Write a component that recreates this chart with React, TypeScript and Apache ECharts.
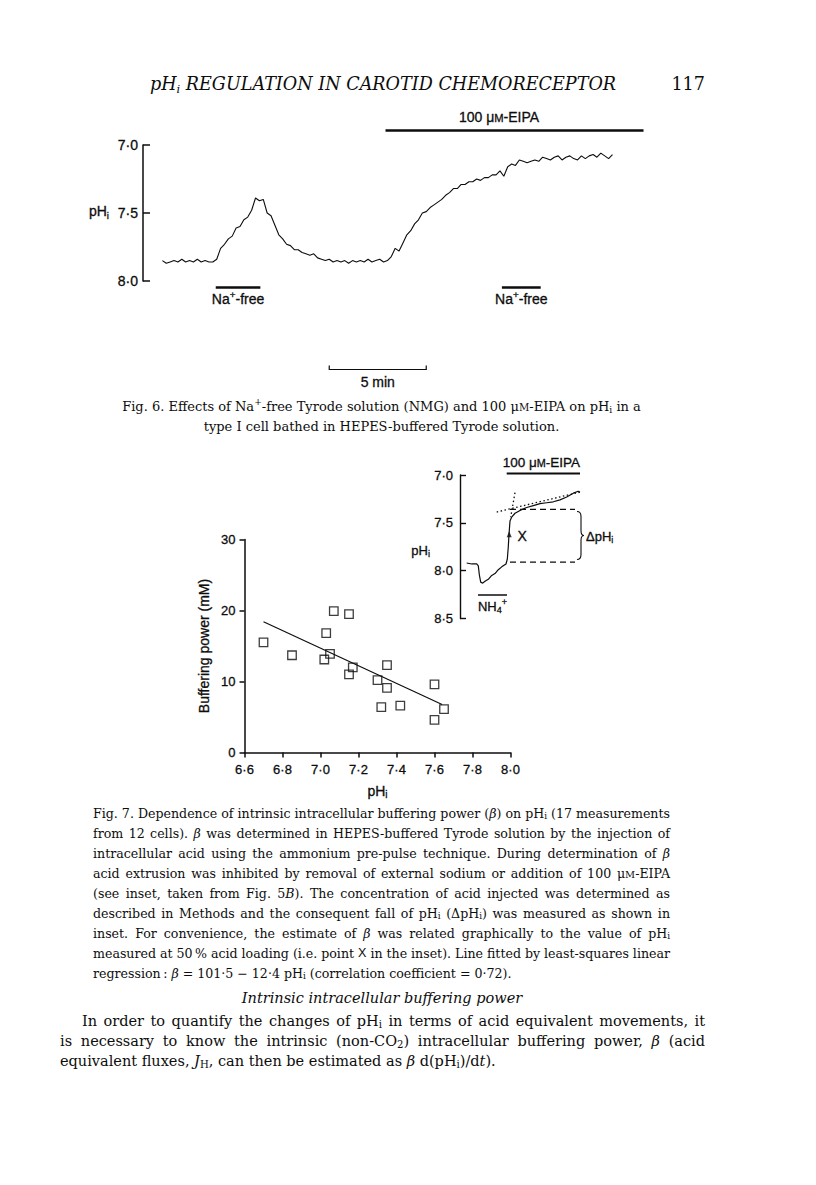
import React, { useEffect, useRef } from "react";
import * as echarts from "echarts";

const SERIF = '"DejaVu Serif"';
const SANS = '"Liberation Sans"';
const INK = "#0d0d0d";

// ---------------- Fig. 6 : pHi trace (sampled every 0.2 min) ----------------
const fig6SampleMin = 0.2;
const fig6PH = [
  7.85, 7.87, 7.86, 7.85, 7.86, 7.84, 7.86, 7.85, 7.86, 7.84,
  7.86, 7.85, 7.86, 7.86, 7.84, 7.76, 7.73, 7.69, 7.67, 7.61,
  7.60, 7.55, 7.53, 7.48, 7.39, 7.41, 7.40, 7.50, 7.52, 7.59,
  7.66, 7.69, 7.73, 7.74, 7.77, 7.77, 7.79, 7.80, 7.81, 7.80,
  7.83, 7.84, 7.85, 7.84, 7.86, 7.85, 7.86, 7.85, 7.87, 7.85,
  7.86, 7.85, 7.86, 7.84, 7.86, 7.85, 7.84, 7.86, 7.85, 7.82,
  7.76, 7.78, 7.72, 7.66, 7.63, 7.58, 7.55, 7.50, 7.49, 7.46,
  7.44, 7.42, 7.40, 7.37, 7.35, 7.32, 7.32, 7.29, 7.29, 7.27,
  7.27, 7.25, 7.26, 7.24, 7.24, 7.22, 7.22, 7.19, 7.23, 7.16,
  7.14, 7.15, 7.11, 7.12, 7.13, 7.12, 7.11, 7.12, 7.09, 7.10,
  7.11, 7.09, 7.08, 7.11, 7.09, 7.08, 7.10, 7.11, 7.08, 7.10,
  7.08, 7.07, 7.09, 7.06, 7.08, 7.10, 7.07,
];
const fig6EipaBarMin = [11.5, 24.8];
const fig6NaFreeBarsMin = [
  [2.75, 5.05],
  [17.5, 19.5],
];
const fig6ScaleBarMin = [8.6, 13.6]; // 5 min

// ---------------- Fig. 7 : buffering power vs pHi ----------------
const fig7PH = [6.7, 6.85, 7.03, 7.02, 7.05, 7.07, 7.15, 7.17, 7.15, 7.3, 7.35, 7.35, 7.32, 7.42, 7.6, 7.6, 7.65];
const fig7Beta = [15.5, 13.7, 16.8, 13.1, 13.9, 19.9, 19.5, 12.0, 11.0, 10.2, 12.3, 9.1, 6.4, 6.6, 9.6, 4.6, 6.1];
const fitIntercept = 101.5;
const fitSlope = -12.4;
const fitRangePH = [6.7, 7.64];

// ---------------- Fig. 7 inset ----------------
const insetT = [6.7, 11.7, 16.7, 18.3, 19.3, 20.7, 22.7, 25, 28.3, 31.7, 35, 38.3, 41.7, 46, 47.3, 48.3, 49, 50, 51.7, 55, 60, 66.7, 73.3, 80, 86.7, 93.3, 100, 106.7, 113.3, 118.3, 120];
const insetPH = [7.92, 7.93, 7.93, 7.95, 8.04, 8.12, 8.13, 8.11, 8.09, 8.05, 8.03, 7.99, 7.96, 7.93, 7.88, 7.75, 7.62, 7.48, 7.44, 7.4, 7.37, 7.34, 7.32, 7.3, 7.29, 7.28, 7.26, 7.23, 7.19, 7.17, 7.18];
const insetTangent = [[36.7, 7.387], [121.7, 7.175]];
const insetSteep = [[55, 7.185], [50.7, 7.44]];
const insetUpperDash = [[50, 7.36], [115, 7.36]];
const insetLowerDash = [[50, 7.91], [115, 7.91]];
const insetPointX = [49.2, 7.62];
const insetEipaBar = [46.7, 120];
const insetNh4Bar = [18, 47];

// ---------------- Texts ----------------
const headerTitle = "pH{hs|i} REGULATION IN CAROTID CHEMORECEPTOR";
const pageNumber = "117";
const fig6Caption = [
  "Fig. 6. Effects of Na{sup|+}-free Tyrode solution (NMG) and 100 {n|μ}{sc|M}-EIPA on pH{s|i} in a",
  "type I cell bathed in HEPES-buffered Tyrode solution.",
];
const fig7Caption = [
  "Fig. 7. Dependence of intrinsic intracellular buffering power ({i|β}) on pH{s|i} (17 measurements",
  "from 12 cells). {i|β} was determined in HEPES-buffered Tyrode solution by the injection of",
  "intracellular acid using the ammonium pre-pulse technique. During determination of {i|β}",
  "acid extrusion was inhibited by removal of external sodium or addition of 100 {n|μ}{sc|M}-EIPA",
  "(see inset, taken from Fig. 5{i|B}). The concentration of acid injected was determined as",
  "described in Methods and the consequent fall of pH{s|i} (ΔpH{s|i}) was measured as shown in",
  "inset. For convenience, the estimate of {i|β} was related graphically to the value of pH{s|i}",
  "measured at 50\u2009% acid loading (i.e. point {x|X} in the inset). Line fitted by least-squares linear",
  "regression\u2009: {i|β} = 101·5 − 12·4 pH{s|i} (correlation coefficient = 0·72).",
];
const sectionHeading = "Intrinsic intracellular buffering power";
const bodyLines = [
  "In order to quantify the changes of pH{s|i} in terms of acid equivalent movements, it",
  "is necessary to know the intrinsic (non-CO{s|2}) intracellular buffering power, {i|β} (acid",
  "equivalent fluxes, {i|J}{s|H}, can then be estimated as {i|β} d(pH{s|i})/d{i|t}).",
];

const dot = (v: number, d: number) => v.toFixed(d).replace(".", "\u00B7");

function parseRich(s: string) {
  const out: { text: string; style: string | null }[] = [];
  const re = /\{(\w+)\|([^}]*)\}/g;
  let last = 0;
  let m: RegExpExecArray | null;
  while ((m = re.exec(s))) {
    if (m.index > last) out.push({ text: s.slice(last, m.index), style: null });
    out.push({ text: m[2], style: m[1] });
    last = re.lastIndex;
  }
  if (last < s.length) out.push({ text: s.slice(last), style: null });
  return out;
}

function serifRich(F: number, italic = false) {
  const it = italic ? "italic " : "";
  const r = (k: number) => Math.round(F * k * 10) / 10;
  return {
    n: { font: `${it}${F}px ${SERIF}` },
    i: { font: `italic ${F}px ${SERIF}` },
    s: { font: `${r(0.7)}px ${SERIF}`, padding: [Math.round(F * 0.5), 0, 0, 0] },
    hs: { font: `${it}${r(0.65)}px ${SERIF}`, padding: [Math.round(F * 0.5), 0, 0, 0] },
    sup: { font: `${r(0.7)}px ${SERIF}`, padding: [0, 0, Math.round(F * 0.6), 0] },
    sc: { font: `${r(0.78)}px ${SERIF}`, padding: [2, 0, 0, 0] },
    x: { font: `${F}px ${SANS}` },
  };
}
function sansRich(F: number) {
  const r = (k: number) => Math.round(F * k * 10) / 10;
  return {
    n: { font: `${F}px ${SANS}` },
    s: { font: `${r(0.7)}px ${SANS}`, padding: [Math.round(F * 0.55), 0, 0, 0] },
    sup: { font: `${r(0.7)}px ${SANS}`, padding: [0, 0, Math.round(F * 0.65), 0] },
    sc: { font: `${r(0.8)}px ${SANS}`, padding: [2, 0, 0, 0] },
  };
}

function buildGraphics(chart: any) {
  const P = (gi: number, x: number, y: number) =>
    chart.convertToPixel({ gridIndex: gi }, [x, y]) as number[];
  const els: any[] = [];
  const canvas = document.createElement("canvas");
  const ctx = canvas.getContext("2d")!;

  const line = (x1: number, y1: number, x2: number, y2: number, w: number) =>
    els.push({ type: "line", silent: true, shape: { x1, y1, x2, y2 }, style: { stroke: INK, lineWidth: w } });
  const txt = (text: string, x: number, y: number, font: string, align: string, rich?: any, bold = 0) =>
    els.push({
      type: "text",
      silent: true,
      x,
      y,
      style: {
        text,
        font,
        fill: INK,
        align,
        verticalAlign: "middle",
        textAlign: align,
        textVerticalAlign: "middle",
        rich,
        ...(bold ? { stroke: INK, lineWidth: bold } : {}),
      },
    });
  const measure = (s: string, base: string, rich: any) => {
    let w = 0;
    for (const seg of parseRich(s)) {
      ctx.font = seg.style ? rich[seg.style].font : base;
      w += ctx.measureText(seg.text).width;
    }
    return w;
  };
  // mode: 'j' justified, 'l' left, 'c' centred
  const paragraph = (lines: string[], lefts: number[], right: number, y0: number, dy: number, base: string, rich: any, modes: string[]) => {
    lines.forEach((ln, k) => {
      const y = y0 + k * dy;
      const left = lefts[k];
      if (modes[k] === "l") {
        txt(ln, left, y, base, "left", rich);
        return;
      }
      if (modes[k] === "c") {
        txt(ln, (left + right) / 2, y, base, "center", rich);
        return;
      }
      const words = ln.split(" ");
      const ws = words.map((w) => measure(w, base, rich));
      const sum = ws.reduce((a, b) => a + b, 0);
      const gap = Math.max((right - left - sum) / (words.length - 1), 2.8);
      let x = left;
      words.forEach((w, i) => {
        txt(w, x, y, base, "left", rich);
        x += ws[i] + gap;
      });
    });
  };

  // ---- page header
  const hF = 17.6;
  txt(headerTitle, 383, 84, `italic ${hF}px ${SERIF}`, "center", serifRich(hF, true));
  txt(pageNumber, 705, 84, `${hF}px ${SERIF}`, "right", serifRich(hF));

  // ---- Fig. 6 annotations
  const f6 = 14;
  const sr6 = sansRich(f6);
  const B = 0.3;
  const e1 = P(0, fig6EipaBarMin[0], 7)[0];
  const e2 = P(0, fig6EipaBarMin[1], 7)[0];
  line(e1, 130.5, e2, 130.5, 2.6);
  txt("100 {n|μ}{sc|M}-EIPA", 499, 117, `${f6}px ${SANS}`, "center", sr6, B);
  fig6NaFreeBarsMin.forEach((b) => {
    const a = P(0, b[0], 8)[0];
    const c = P(0, b[1], 8)[0];
    line(a, 287.5, c, 287.5, 2.6);
    txt("Na{sup|+}-free", (a + c) / 2, 299, `${f6}px ${SANS}`, "center", sr6, B);
  });
  const s1 = P(0, fig6ScaleBarMin[0], 8)[0];
  const s2 = P(0, fig6ScaleBarMin[1], 8)[0];
  line(s1, 369.5, s2, 369.5, 1.2);
  line(s1, 365.5, s1, 370, 1.2);
  line(s2, 365.5, s2, 370, 1.2);
  txt("5 min", (s1 + s2) / 2, 382, `${f6}px ${SANS}`, "center", sr6, B);
  txt("pH{s|i}", 99, 211, `${f6}px ${SANS}`, "center", sr6, B);

  // ---- Fig. 6 caption
  const c6F = 13;
  paragraph(fig6Caption, [93, 93], 670, 406, 20, `${c6F}px ${SERIF}`, serifRich(c6F), ["c", "c"]);

  // ---- Fig. 7 inset annotations
  const fi = 13;
  const sri = sansRich(fi);
  const i1 = P(2, insetEipaBar[0], 7)[0];
  const i2 = P(2, insetEipaBar[1], 7)[0];
  line(i1, 473.5, i2, 473.5, 2);
  txt("100 {n|μ}{sc|M}-EIPA", (i1 + i2) / 2 - 2, 462, `${fi + 0.5}px ${SANS}`, "center", sansRich(fi + 0.5), B);
  const n1 = P(2, insetNh4Bar[0], 8)[0];
  const n2 = P(2, insetNh4Bar[1], 8)[0];
  line(n1, 595, n2, 595, 1.5);
  txt("NH{s|4}{sup|+}", (n1 + n2) / 2, 606, `${fi}px ${SANS}`, "center", sri, B);
  txt("pH{s|i}", 430, 550, `${fi}px ${SANS}`, "right", sri, B);
  const px = P(2, insetPointX[0], insetPointX[1]);
  txt("X", px[0] + 13, px[1] + 2, `${fi + 1}px ${SANS}`, "center", sri, B);
  els.push({ type: "brace", silent: true, x: 577, y: 511.5, style: { fill: "none", stroke: INK, lineWidth: 1.1 } });
  txt("ΔpH{s|i}", 586, 536, `${fi}px ${SANS}`, "left", sri, B);

  // ---- Fig. 7 caption (justified)
  const c7F = 12.6;
  paragraph(
    fig7Caption,
    fig7Caption.map(() => 93),
    670,
    813,
    20,
    `${c7F}px ${SERIF}`,
    serifRich(c7F),
    fig7Caption.map((_, k) => (k < fig7Caption.length - 1 ? "j" : "l"))
  );

  // ---- section heading and body text
  const bF = 14.5;
  const br = serifRich(bF);
  txt(sectionHeading, 382, 998, `italic ${bF}px ${SERIF}`, "center", br);
  paragraph(bodyLines, [82, 60, 60], 705, 1021, 20, `${bF}px ${SERIF}`, br, ["j", "j", "l"]);

  return els;
}

echarts.graphic.registerShape(
  "brace",
  echarts.graphic.extendPath(
    "M0,0 C3,0 4,1.5 4,5 L4,19 C4,22 5,24 7,24 C5,24 4,26 4,29 L4,43 C4,46.5 3,48 0,48",
    {}
  ) as any
);

export default function App() {
  const ref = useRef<HTMLDivElement>(null);
  useEffect(() => {
    const el = ref.current!;
    const chart = echarts.init(el, null, { renderer: "svg", width: 816, height: 1185 });
    const axisText = { color: INK, fontFamily: "Liberation Sans", textBorderColor: INK, textBorderWidth: 0.3 };
    const fig6Data = fig6PH.map((v, i) => [+(i * fig6SampleMin).toFixed(2), v]);
    const option: any = {
      animation: false,
      backgroundColor: "#fff",
      textStyle: { fontFamily: "Liberation Sans", color: INK },
      grid: [
        { left: 143, top: 145, width: 504.4, height: 136, containLabel: false },
        { left: 244.5, top: 539.5, width: 266, height: 213, containLabel: false },
        { left: 460, top: 475, width: 130, height: 143.5, containLabel: false },
      ],
      xAxis: [
        { gridIndex: 0, type: "value", min: -1, max: 25, show: false },
        {
          gridIndex: 1,
          type: "value",
          min: 6.6,
          max: 8.0,
          interval: 0.2,
          axisLine: { onZero: false, lineStyle: { color: INK, width: 1.5 } },
          axisTick: { inside: false, length: 5, lineStyle: { color: INK, width: 1.5 } },
          axisLabel: { ...axisText, fontSize: 13, margin: 10, formatter: (v: number) => dot(v, 1) },
          splitLine: { show: false },
          name: "pH{s|i}",
          nameLocation: "middle",
          nameGap: 29,
          nameTextStyle: {
            ...axisText,
            fontSize: 14,
            rich: { s: { fontSize: 10, fontFamily: "Liberation Sans", color: INK, padding: [8, 0, 0, 0] } },
          },
        },
        { gridIndex: 2, type: "value", min: 0, max: 130, show: false },
      ],
      yAxis: [
        {
          gridIndex: 0,
          type: "value",
          inverse: true,
          min: 7.0,
          max: 8.0,
          interval: 0.5,
          axisLine: { show: true, onZero: false, lineStyle: { color: INK, width: 1.5 } },
          axisTick: { show: true, inside: true, length: 7, lineStyle: { color: INK, width: 1.5 } },
          axisLabel: { ...axisText, fontSize: 14, margin: 5, formatter: (v: number) => dot(v, 1) },
          splitLine: { show: false },
        },
        {
          gridIndex: 1,
          type: "value",
          min: 0,
          max: 30,
          interval: 10,
          axisLine: { show: true, onZero: false, lineStyle: { color: INK, width: 1.5 } },
          axisTick: { show: true, inside: false, length: 5, lineStyle: { color: INK, width: 1.5 } },
          axisLabel: { ...axisText, fontSize: 13, margin: 9 },
          splitLine: { show: false },
          name: "Buffering power (mM)",
          nameLocation: "middle",
          nameGap: 34,
          nameTextStyle: { ...axisText, fontSize: 14 },
        },
        {
          gridIndex: 2,
          type: "value",
          inverse: true,
          min: 7.0,
          max: 8.5,
          interval: 0.5,
          axisLine: { show: true, onZero: false, lineStyle: { color: INK, width: 1.4 } },
          axisTick: { show: true, inside: true, length: 6, lineStyle: { color: INK, width: 1.4 } },
          axisLabel: { ...axisText, fontSize: 13, margin: 7, formatter: (v: number) => dot(v, 1) },
          splitLine: { show: false },
        },
      ],
      series: [
        {
          type: "line",
          xAxisIndex: 0,
          yAxisIndex: 0,
          data: fig6Data,
          symbol: "none",
          lineStyle: { color: INK, width: 1.1 },
          silent: true,
        },
        {
          type: "scatter",
          xAxisIndex: 1,
          yAxisIndex: 1,
          data: fig7PH.map((x, i) => [x, fig7Beta[i]]),
          symbol: "rect",
          symbolSize: 8.5,
          itemStyle: { color: "rgba(0,0,0,0)", borderColor: INK, borderWidth: 1.3 },
          silent: true,
        },
        {
          type: "line",
          xAxisIndex: 1,
          yAxisIndex: 1,
          data: fitRangePH.map((x) => [x, fitIntercept + fitSlope * x]),
          symbol: "none",
          lineStyle: { color: INK, width: 1.2 },
          silent: true,
        },
        {
          type: "line",
          xAxisIndex: 2,
          yAxisIndex: 2,
          data: insetT.map((t, i) => [t, insetPH[i]]),
          symbol: "none",
          lineStyle: { color: INK, width: 1.2 },
          silent: true,
        },
        {
          type: "line",
          xAxisIndex: 2,
          yAxisIndex: 2,
          data: insetTangent,
          symbol: "none",
          lineStyle: { color: INK, width: 1.3, type: [1.5, 2.5] },
          silent: true,
        },
        {
          type: "line",
          xAxisIndex: 2,
          yAxisIndex: 2,
          data: insetSteep,
          symbol: "none",
          lineStyle: { color: INK, width: 1.3, type: [1.5, 2.5] },
          silent: true,
        },
        {
          type: "line",
          xAxisIndex: 2,
          yAxisIndex: 2,
          data: insetUpperDash,
          symbol: "none",
          lineStyle: { color: INK, width: 1.2, type: [6, 4] },
          silent: true,
        },
        {
          type: "line",
          xAxisIndex: 2,
          yAxisIndex: 2,
          data: insetLowerDash,
          symbol: "none",
          lineStyle: { color: INK, width: 1.2, type: [6, 4] },
          silent: true,
        },
        {
          type: "scatter",
          xAxisIndex: 2,
          yAxisIndex: 2,
          data: [insetPointX],
          symbol: "triangle",
          symbolSize: [5, 6],
          itemStyle: { color: INK },
          silent: true,
        },
      ],
    };
    chart.setOption(option);
    chart.setOption({ graphic: { elements: buildGraphics(chart) } });
    return () => chart.dispose();
  }, []);
  return (
    <div
      ref={ref}
      style={{ position: "absolute", left: 0, top: 0, width: 816, height: 1185, background: "#fff" }}
    />
  );
}
